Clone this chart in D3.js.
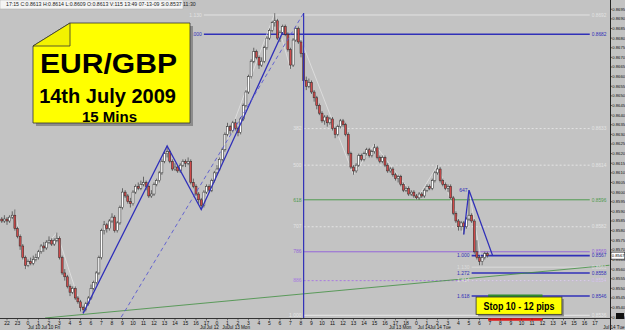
<!DOCTYPE html>
<html>
<head>
<meta charset="utf-8">
<script src="https://cdn.jsdelivr.net/npm/d3@7"></script>
<style>
body { margin: 0; background: #c3c3c3; }
svg { display: block; font-family: "Liberation Sans", Arial, sans-serif; }
</style>
</head>
<body>
<svg width="625" height="330"></svg>
<script>
// 15 min EUR/GBP candles, prices in pips (8612 = 0.8612)
var opens = [8586,8585,8586,8585,8587,8588,8581,8577,8572,8566,8562,8564,8563,8565,8566,8569,8572,8571,8574,8575,
  8573,8575,8576,8566,8558,8556,8551,8548,8550,8545,8543,8540,8539,8542,8545,8550,8553,8558,8566,8580,
  8583,8581,8585,8587,8580,8584,8592,8600,8598,8595,8594,8600,8603,8602,8604,8605,8603,8598,8599,8604,
  8606,8610,8616,8620,8621,8616,8612,8613,8611,8614,8616,8615,8616,8605,8603,8599,8596,8593,8600,8603,
  8601,8606,8610,8612,8617,8622,8630,8634,8632,8636,8633,8631,8638,8645,8652,8660,8668,8673,8670,8666,
  8668,8675,8680,8684,8688,8689,8680,8683,8686,8682,8674,8666,8679,8685,8678,8672,8658,8655,8657,8652,
  8649,8645,8641,8637,8639,8636,8638,8633,8630,8634,8637,8635,8630,8620,8613,8611,8614,8619,8617,8620,
  8622,8619,8621,8623,8618,8616,8618,8614,8611,8612,8609,8607,8608,8604,8601,8602,8599,8600,8598,8597,
  8599,8598,8601,8603,8602,8606,8610,8612,8606,8604,8602,8603,8597,8589,8585,8582,8584,8582,8586,8588,
  8585,8569,8566,8564,8566,8568];
var highs = [8587,8588,8587,8588,8590,8591,8582,8578,8573,8567,8565,8566,8567,8568,8570,8573,8574,8575,8577,8576,
  8576,8579,8577,8567,8560,8557,8552,8551,8551,8546,8544,8541,8543,8546,8552,8554,8559,8567,8581,8585,
  8584,8586,8589,8588,8585,8593,8602,8601,8599,8597,8601,8604,8605,8606,8608,8606,8604,8601,8605,8607,
  8611,8617,8621,8624,8622,8617,8615,8614,8615,8617,8617,8618,8617,8607,8604,8600,8597,8601,8604,8604,
  8607,8611,8614,8618,8623,8631,8636,8635,8637,8638,8634,8639,8646,8653,8661,8669,8675,8674,8671,8670,
  8676,8681,8685,8689,8693,8690,8684,8687,8687,8683,8675,8680,8686,8686,8679,8673,8660,8659,8658,8653,
  8650,8646,8642,8640,8640,8639,8639,8634,8635,8638,8638,8636,8631,8621,8614,8615,8620,8620,8621,8623,
  8623,8622,8625,8624,8619,8619,8619,8615,8613,8613,8610,8609,8609,8605,8603,8603,8601,8601,8599,8600,
  8600,8602,8604,8604,8607,8611,8614,8613,8607,8605,8604,8604,8598,8590,8586,8585,8585,8587,8601,8589,
  8586,8575,8567,8567,8569,8569];
var lows = [8584,8584,8583,8584,8586,8580,8576,8570,8565,8560,8561,8562,8562,8564,8565,8568,8569,8570,8573,8572,
  8572,8574,8565,8557,8554,8550,8546,8547,8544,8542,8538,8537,8538,8541,8544,8549,8552,8557,8565,8578,
  8579,8580,8584,8579,8579,8583,8591,8597,8594,8592,8593,8599,8601,8601,8603,8601,8597,8597,8598,8603,
  8605,8609,8615,8618,8615,8611,8611,8610,8610,8613,8613,8614,8604,8602,8598,8594,8591,8592,8599,8600,
  8600,8605,8609,8611,8616,8621,8629,8630,8631,8632,8629,8630,8637,8644,8651,8659,8667,8669,8664,8665,
  8667,8674,8679,8683,8686,8679,8678,8682,8681,8673,8664,8665,8678,8677,8670,8657,8653,8654,8651,8647,
  8643,8640,8636,8635,8634,8635,8632,8628,8629,8633,8634,8629,8619,8612,8609,8610,8613,8616,8616,8619,
  8618,8618,8620,8617,8615,8615,8613,8610,8610,8608,8606,8605,8603,8600,8600,8598,8598,8597,8596,8596,
  8597,8597,8600,8601,8601,8605,8609,8605,8603,8601,8600,8596,8588,8584,8580,8580,8578,8581,8585,8584,
  8568,8565,8562,8562,8565,8566];
var closes = [8585,8586,8585,8587,8588,8581,8577,8572,8566,8562,8564,8563,8565,8566,8569,8572,8571,8574,8575,8573,
  8575,8576,8566,8558,8556,8551,8548,8550,8545,8543,8540,8539,8542,8545,8550,8553,8558,8566,8580,8583,
  8581,8585,8587,8580,8584,8592,8600,8598,8595,8594,8600,8603,8602,8604,8605,8603,8598,8599,8604,8606,
  8610,8616,8620,8621,8616,8612,8613,8611,8614,8616,8615,8616,8605,8603,8599,8596,8593,8600,8603,8601,
  8606,8610,8612,8617,8622,8630,8634,8632,8636,8633,8631,8638,8645,8652,8660,8668,8673,8670,8666,8668,
  8675,8680,8684,8688,8689,8680,8683,8686,8682,8674,8666,8679,8685,8678,8672,8658,8655,8657,8652,8649,
  8645,8641,8637,8639,8636,8638,8633,8630,8634,8637,8635,8630,8620,8613,8611,8614,8619,8617,8620,8622,
  8619,8621,8623,8618,8616,8618,8614,8611,8612,8609,8607,8608,8604,8601,8602,8599,8600,8598,8597,8599,
  8598,8601,8603,8602,8606,8610,8612,8606,8604,8602,8603,8597,8589,8585,8582,8584,8582,8586,8588,8585,
  8569,8566,8564,8566,8568,8567];

// time axis: one label per hour (4 candles), first at candle 2
var hourLabels = ["22","23","0","1","2","3","4","5","6","7","8","9","10","11","12","13","14","15","16","17",
  "0","1","2","3","4","5","6","7","8","9","10","11","12","13","14","15","16","17","18",
  "0","1","2","3","4","5","6","7","8","9","10","11","12","13","14","15","16","17"];
var dateLabels = ["Jul 10","Jul 10 Fri","Jul","Jul 12","Jul","Jul 13 Mon","Jul 13 Mon","Jul 14","Jul 14 Tue","Jul 14 Tue"];
var dateIndex = [10, 15, 75.5, 78, 84, 86, 147.5, 158.5, 163, 227];

// right price axis ticks
var priceTicks = [8695,8690,8685,8680,8675,8670,8665,8660,8655,8650,8645,8640,8635,8630,8625,8620,8615,
  8610,8605,8600,8595,8590,8585,8580,8575,8570,8565,8560,8555,8550,8545,8540,8535];

// fib retracement of the big swing
var fibLabels = ["382","500","618","707","786","886","1.000"];
var fibPrices = [8633, 8614, 8596, 8582, 8569, 8554, 8536];
// projections of the first pattern
var topLabels = ["1.130","1.000"];
var topPrices = [8692, 8682];
// projections of the second pattern
var projLabels = ["1.000","1.130","1.272","1.414","1.618"];
var projPrices = [8567, 8561, 8558, 8554, 8546];

// pattern legs (candle index, price)
var abcdIdx = [31, 63, 76, 107];
var abcdPx = [8537, 8624, 8591, 8683];
var dashIdx = [45.5, 115];
var dashPx = [8535, 8693];
var cdIdx = [176, 178, 187];
var cdPx = [8578, 8601, 8567];
var trendIdx = [16.5, 231.5];
var trendPx = [8534.6, 8562];
var zzIdx = [5, 9, 21, 31, 63, 76, 104, 110, 112, 134, 142, 158, 166, 176, 178, 183];
var zzPx = [8591, 8560, 8579, 8537, 8624, 8591, 8693, 8664, 8686, 8609, 8625, 8596, 8614, 8578, 8601, 8562];

var svg = d3.select("svg");
var plotW = 610, plotH = 318.5;

var x = d3.scaleLinear().domain([0, 232]).range([1.75, 610.75]);
var y = d3.scaleLinear().domain([8534.6, 8699.8]).range([318, 0]);

var fmt = function(p) { return "0." + p; };

svg.append("rect").attr("width", 625).attr("height", 330).attr("fill", "#c3c3c3");

svg.append("clipPath").attr("id", "clip")
  .append("rect").attr("width", plotW).attr("height", plotH);

var plot = svg.append("g").attr("clip-path", "url(#clip)");

// colours per level
var fibColor = { "382": "#e4e4e4", "500": "#e4e4e4", "618": "#4f9a4f", "707": "#e4e4e4", "786": "#9466d8", "886": "#a878e0", "1.000": "#e8e8e8" };
var fibDash = { "382": "2,2", "500": "2,2", "707": "2,2", "886": "2,2" };
var projColor = { "1.000": "#3030b8", "1.130": "#dcdcdc", "1.272": "#3030b8", "1.414": "#e0e0e0", "1.618": "#3030b8" };
var topColor = { "1.130": "#e2e2e2", "1.000": "#3030b8" };

var line = d3.line().x(function(d) { return x(d[0]); }).y(function(d) { return y(d[1]); });

// horizontal levels
function levels(labels, prices, i0, i1, color, dash, width) {
  labels.forEach(function(l, k) {
    plot.append("line")
      .attr("x1", x(i0)).attr("x2", x(i1))
      .attr("y1", y(prices[k])).attr("y2", y(prices[k]))
      .attr("stroke", color[l])
      .attr("stroke-width", width(l))
      .attr("stroke-dasharray", dash[l] || null);
    svg.append("text")
      .attr("x", x(i0) - 2).attr("y", y(prices[k]) + 1.7)
      .attr("text-anchor", "end")
      .attr("font-size", 5).attr("fill", color[l])
      .text(l);
    svg.append("text")
      .attr("x", x(i1) + 2).attr("y", y(prices[k]) + 1.7)
      .attr("font-size", 4.8).attr("fill", color[l])
      .text(fmt(prices[k]));
  });
}

levels(topLabels, topPrices, 77, 224, topColor, {}, function(l) { return l == "1.000" ? 1.6 : 1; });
levels(fibLabels, fibPrices, 115, 224, fibColor, fibDash, function(l) { return 1; });
levels(projLabels, projPrices, 179, 224, projColor, { "1.414": "2,2" }, function(l) { return projColor[l] == "#3030b8" ? 1.6 : 1; });

// long green trend line
plot.append("path")
  .attr("d", line(trendIdx.map(function(v, k) { return [v, trendPx[k]]; })))
  .attr("fill", "none").attr("stroke", "#3f8f3f").attr("stroke-width", 0.8);

// faint zigzag
plot.append("path")
  .attr("d", line(zzIdx.map(function(v, k) { return [v, zzPx[k]]; })))
  .attr("fill", "none").attr("stroke", "#e6e6e6").attr("stroke-width", 0.7);

// candles
var candles = opens.map(function(o, i) {
  return { i: i, o: o, h: highs[i], l: lows[i], c: closes[i] };
});

plot.selectAll(".wick").data(candles).enter().append("line")
  .attr("class", "wick")
  .attr("x1", function(d) { return x(d.i); }).attr("x2", function(d) { return x(d.i); })
  .attr("y1", function(d) { return y(d.h); }).attr("y2", function(d) { return y(d.l); })
  .attr("stroke", "#3a3a3a").attr("stroke-width", 0.7);

plot.selectAll(".body").data(candles).enter().append("rect")
  .attr("class", "body")
  .attr("x", function(d) { return x(d.i) - 1; })
  .attr("width", 2)
  .attr("y", function(d) { return y(Math.max(d.o, d.c)); })
  .attr("height", function(d) { return Math.max(0.8, Math.abs(y(d.o) - y(d.c))); })
  .attr("fill", function(d) { return d.c < d.o ? "#cf4a4a" : "#ffffff"; })
  .attr("stroke", "#2a2a2a").attr("stroke-width", 0.5);

// pattern legs on top of the candles
plot.append("path")
  .attr("d", line(abcdIdx.map(function(v, k) { return [v, abcdPx[k]]; })))
  .attr("fill", "none").attr("stroke", "#3030b8").attr("stroke-width", 1.3);
plot.append("path")
  .attr("d", line(cdIdx.map(function(v, k) { return [v, cdPx[k]]; })))
  .attr("fill", "none").attr("stroke", "#3030b8").attr("stroke-width", 1.3);
plot.append("path")
  .attr("d", line(dashIdx.map(function(v, k) { return [v, dashPx[k]]; })))
  .attr("fill", "none").attr("stroke", "#5a5ad0").attr("stroke-width", 0.9)
  .attr("stroke-dasharray", "4,3");
plot.append("line")
  .attr("x1", x(115)).attr("x2", x(115))
  .attr("y1", y(8693)).attr("y2", plotH)
  .attr("stroke", "#3030b8").attr("stroke-width", 1.2);

svg.append("text").attr("x", x(178) - 1.5).attr("y", y(8601) + 1.7)
  .attr("text-anchor", "end").attr("font-size", 5).attr("fill", "#3030b8").text("647");

// stop zone
plot.append("line")
  .attr("x1", x(185.3)).attr("x2", x(206))
  .attr("y1", y(8546)).attr("y2", y(8546))
  .attr("stroke", "#2f8a2f").attr("stroke-width", 3);

// bottom axis
svg.append("line").attr("x1", 0).attr("x2", plotW).attr("y1", plotH).attr("y2", plotH)
  .attr("stroke", "#333").attr("stroke-width", 1);
svg.append("line")
  .attr("x1", x(185.3)).attr("x2", x(206)).attr("y1", 319.5).attr("y2", 319.5)
  .attr("stroke", "#e01818").attr("stroke-width", 2.5);

svg.selectAll(".hour").data(hourLabels).enter().append("text")
  .attr("class", "hour")
  .attr("x", function(d, k) { return x(2 + 4 * k); })
  .attr("y", 325)
  .attr("text-anchor", "middle")
  .attr("font-size", 5).attr("fill", "#111")
  .text(function(d) { return d; });
svg.selectAll(".htick").data(hourLabels).enter().append("line")
  .attr("x1", function(d, k) { return x(2 + 4 * k); })
  .attr("x2", function(d, k) { return x(2 + 4 * k); })
  .attr("y1", plotH).attr("y2", plotH + 1.8)
  .attr("stroke", "#333").attr("stroke-width", 0.6);
svg.selectAll(".date").data(dateLabels).enter().append("text")
  .attr("x", function(d, k) { return k == dateLabels.length - 1 ? 624.5 : x(dateIndex[k]); })
  .attr("text-anchor", function(d, k) { return k == dateLabels.length - 1 ? "end" : "start"; })
  .attr("y", 329)
  .attr("font-size", 4.6).attr("fill", "#111")
  .text(function(d) { return d; });

// right price axis
svg.append("line").attr("x1", plotW + 0.5).attr("x2", plotW + 0.5).attr("y1", 0).attr("y2", 330)
  .attr("stroke", "#222").attr("stroke-width", 1);
svg.selectAll(".ptick").data(priceTicks).enter().append("line")
  .attr("x1", plotW + 0.5).attr("x2", plotW + 2)
  .attr("y1", function(d) { return y(d); }).attr("y2", function(d) { return y(d); })
  .attr("stroke", "#222").attr("stroke-width", 0.6);
svg.selectAll(".plabel").data(priceTicks).enter().append("text")
  .attr("x", plotW + 2.3).attr("y", function(d) { return y(d) + 1.5; })
  .attr("font-size", 4.2).attr("fill", "#111")
  .text(function(d) { return fmt(d); });

// current price box
var last = closes[closes.length - 1];
svg.append("rect").attr("x", plotW + 1).attr("y", y(last) - 3.5).attr("width", 13.8).attr("height", 7)
  .attr("fill", "#fff").attr("stroke", "#111").attr("stroke-width", 0.6);
svg.append("text").attr("x", plotW + 1.8).attr("y", y(last) + 1.6)
  .attr("font-size", 4.2).attr("fill", "#000").text(fmt(last));
svg.append("rect").attr("x", 616).attr("y", 313).attr("width", 8).attr("height", 6).attr("fill", "#111");

// header readout
svg.append("rect").attr("x", 0).attr("y", 0).attr("width", 183).attr("height", 9)
  .attr("fill", "#f4f4f4").attr("stroke", "#aaa").attr("stroke-width", 0.5);
svg.append("text").attr("x", 6).attr("y", 6.3).attr("font-size", 5.2).attr("fill", "#222")
  .text("17:15   C:0.8613   H:0.8614   L:0.8609   O:0.8613   V:115   13:49   07-13-09   S:0.8537   11:30");

// yellow title note with folded corner
var note = svg.append("g");
note.append("path").attr("d", "M36,49 L73,26 L193,26 L193,126 L36,126 Z").attr("fill", "#8c8c8c");
note.append("path").attr("d", "M33,46 L70,23 L190,23 L190,123 L33,123 Z")
  .attr("fill", "#ffff00").attr("stroke", "#333").attr("stroke-width", 0.8);
note.append("path").attr("d", "M33,46 L70,23 L70,46 Z")
  .attr("fill", "#f2f200").attr("stroke", "#333").attr("stroke-width", 0.8);
note.append("text").attr("x", 108.5).attr("y", 73).attr("text-anchor", "middle")
  .attr("font-size", 27).attr("font-weight", "bold").attr("fill", "#000")
  .attr("textLength", 137).attr("lengthAdjust", "spacingAndGlyphs").text("EUR/GBP");
note.append("text").attr("x", 107.5).attr("y", 103).attr("text-anchor", "middle")
  .attr("font-size", 20).attr("font-weight", "bold").attr("fill", "#000").text("14th July 2009");
note.append("text").attr("x", 109.5).attr("y", 122).attr("text-anchor", "middle")
  .attr("font-size", 15).attr("font-weight", "bold").attr("fill", "#000").text("15 Mins");

// stop note
var bx0 = x(180.7), bx1 = x(213.4), by0 = y(8545.5), by1 = y(8536.5);
svg.append("rect").attr("x", bx0 + 2).attr("y", by0 + 2).attr("width", bx1 - bx0).attr("height", by1 - by0).attr("fill", "#8c8c8c");
svg.append("rect").attr("x", bx0).attr("y", by0).attr("width", bx1 - bx0).attr("height", by1 - by0)
  .attr("fill", "#ffff00").attr("stroke", "#333").attr("stroke-width", 0.8);
svg.append("text").attr("x", (bx0 + bx1) / 2).attr("y", by1 - 4.5).attr("text-anchor", "middle")
  .attr("font-size", 10).attr("font-weight", "bold").attr("fill", "#000")
  .attr("textLength", 71).attr("lengthAdjust", "spacingAndGlyphs").text("Stop 10 - 12 pips");
</script>
</body>
</html>
